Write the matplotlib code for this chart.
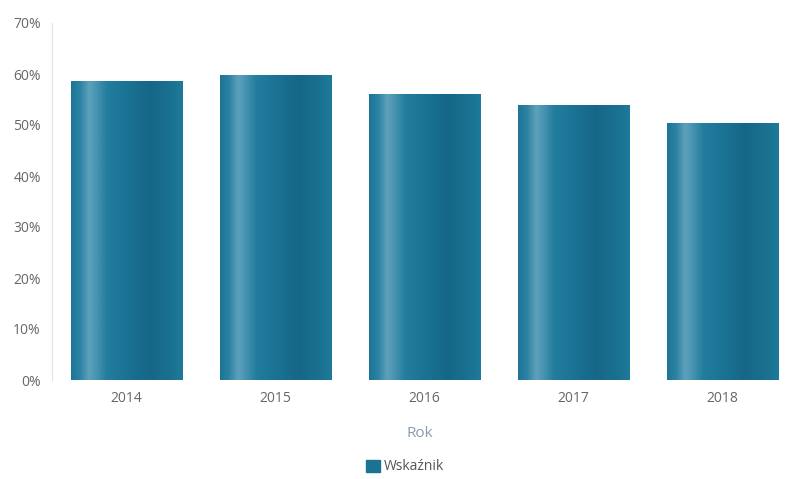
import matplotlib
matplotlib.use("Agg")
import matplotlib.pyplot as plt
import numpy as np
from matplotlib.colors import LinearSegmentedColormap
from matplotlib.patches import Patch

years = ["2014", "2015", "2016", "2017", "2018"]
values = [58.7, 59.9, 56.0, 54.0, 50.3]
series_name = "Wskaźnik"
y_ticks = [0, 10, 20, 30, 40, 50, 60, 70]

plt.rcParams['font.family'] = ['Open Sans', 'DejaVu Sans']

fig = plt.figure(figsize=(7.88, 4.79), dpi=100)
ax = fig.add_axes([52/788, 1-380/479, 1-52/788, (380-23)/479])

cmap = LinearSegmentedColormap.from_list("cyl", [
    (0.0, "#1d7596"),
    (0.08, "#2c82a3"),
    (0.16, "#5ea1bb"),
    (0.22, "#4b95b2"),
    (0.32, "#237d9e"),
    (0.50, "#1a7395"),
    (0.70, "#166787"),
    (0.88, "#1a7090"),
    (1.0, "#1e7a9a"),
])
grad = np.linspace(0, 1, 256).reshape(1, -1)

x = np.arange(len(years))
bars = ax.bar(x, values, width=0.75, facecolor="none", edgecolor="none", zorder=2)
for b in bars:
    x0, y0 = b.get_x(), b.get_y()
    w, h = b.get_width(), b.get_height()
    im = ax.imshow(grad, cmap=cmap, extent=(x0, x0 + w, y0, y0 + h),
                   aspect="auto", zorder=2, interpolation="bicubic")
    im.set_clip_path(b)

ax.set_xlim(-0.5, 4.44)
ax.set_ylim(0, 70)
ax.set_xticks(x)
ax.set_xticklabels(years)
ax.set_yticks(y_ticks)
ax.set_yticklabels([f"{t}%" for t in y_ticks])
ax.tick_params(axis="both", length=0, colors="#666666", labelsize=10)
ax.tick_params(axis="y", pad=8)
ax.tick_params(axis="x", pad=8)
for s in ["top", "right", "bottom"]:
    ax.spines[s].set_visible(False)
ax.spines["left"].set_color("#e2e2e2")
ax.spines["left"].set_linewidth(0.8)

ax.set_xlabel("Rok", color="#8a9bb0", fontsize=11, labelpad=14)

leg_handle = Patch(facecolor="#1b7394", edgecolor="#1b7394", label=series_name)
fig.legend(handles=[leg_handle], loc="center", bbox_to_anchor=(405/788, 1-467/479),
           frameon=False, fontsize=10, handlelength=1.0, handleheight=1.0,
           handletextpad=0.3, labelcolor="#555555")

fig.savefig("out.png", dpi=100)
